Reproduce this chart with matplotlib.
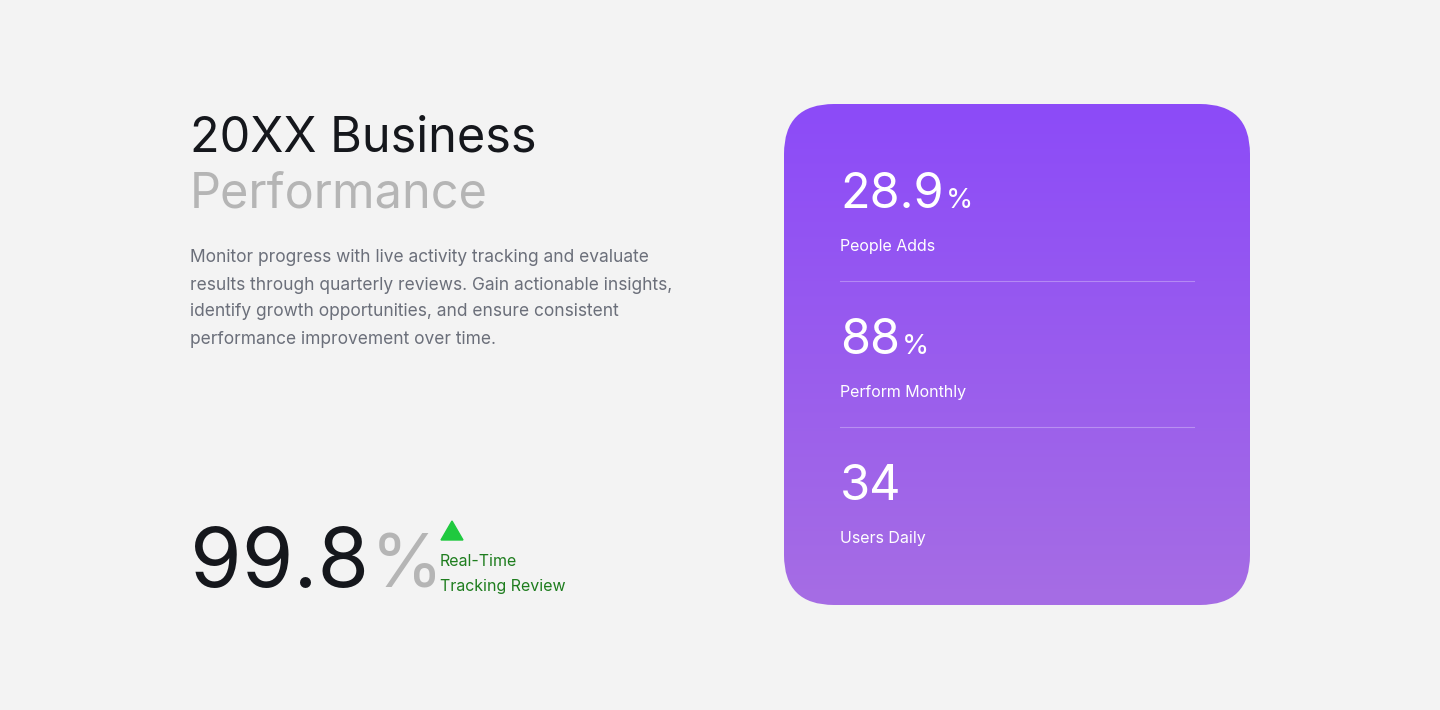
import numpy as np
import matplotlib.pyplot as plt
from matplotlib.patches import FancyBboxPatch, Polygon

plt.rcParams['font.family'] = ['Inter', 'DejaVu Sans']

title_top = "20XX Business"
title_bottom = "Performance"
body_lines = [
    "Monitor progress with live activity tracking and evaluate",
    "results through quarterly reviews. Gain actionable insights,",
    "identify growth opportunities, and ensure consistent",
    "performance improvement over time.",
]
headline_value = "99.8"
headline_caption = ["Real-Time", "Tracking Review"]
card_values = ["28.9", "88", "34"]
card_units = ["%", "%", ""]
card_labels = ["People Adds", "Perform Monthly", "Users Daily"]

fig = plt.figure(figsize=(14.4, 7.1), dpi=100, facecolor='#f3f3f3')
ax = fig.add_axes([0, 0, 1, 1])
ax.set_xlim(0, 1440)
ax.set_ylim(710, 0)
ax.axis('off')
ax.set_facecolor('#f3f3f3')

# title and body
ax.text(190, 152, title_top, fontsize=35, color='#15171c', va='baseline')
ax.text(190, 208, title_bottom, fontsize=35, color='#b5b5b5', va='baseline')
for i, line in enumerate(body_lines):
    ax.text(190, 258 + 27 * i, line, fontsize=12.5, color='#6b6f7a', va='center')

fig.canvas.draw()
renderer = fig.canvas.get_renderer()


def value_with_unit(x, y, value, unit, size, unit_size, color, unit_color):
    t = ax.text(x, y, value, fontsize=size, color=color, va='baseline')
    if unit:
        bb = t.get_window_extent(renderer)
        x_end = bb.x1  # pixels; axes data == pixels in x
        ax.text(x_end + 2, y, unit, fontsize=unit_size, color=unit_color, va='baseline')


# headline
value_with_unit(190, 587, headline_value, "%", 60, 53, '#15171c', '#b5b5b5')
ax.add_patch(Polygon([[441, 540], [463, 540], [452, 521]], closed=True, color='#1fc93f'))
for i, line in enumerate(headline_caption):
    ax.text(440, 562 + 24 * i, line, fontsize=11.5, color='#1e7d1e', va='center')

# gradient card
x0, y0, x1, y1 = 784, 104, 1250, 605
card = FancyBboxPatch((x0, y0), x1 - x0, y1 - y0,
                      boxstyle="round,pad=0,rounding_size=50",
                      facecolor='none', edgecolor='none')
ax.add_patch(card)
top = np.array([0x8c, 0x4b, 0xf8]) / 255
bot = np.array([0xa6, 0x6d, 0xe4]) / 255
t = np.linspace(0, 1, 256)[:, None, None]
grad = top * (1 - t) + bot * t
grad = np.repeat(grad, 2, axis=1)
im = ax.imshow(grad, extent=(x0, x1, y1, y0), aspect='auto', zorder=1)
im.set_clip_path(card)

for i, (v, u, lab) in enumerate(zip(card_values, card_units, card_labels)):
    yb = 208 + 146 * i
    value_with_unit(840, yb, v, u, 35, 20, 'white', 'white')
    ax.text(840, 246 + 146 * i, lab, fontsize=11.5, color='white', va='center', zorder=3)
for yd in (281, 427):
    ax.plot([840, 1194], [yd, yd], color='white', alpha=0.3, lw=0.8, zorder=3)

for txt in ax.texts:
    txt.set_zorder(3)

fig.savefig('out.png', dpi=100, facecolor=fig.get_facecolor())
